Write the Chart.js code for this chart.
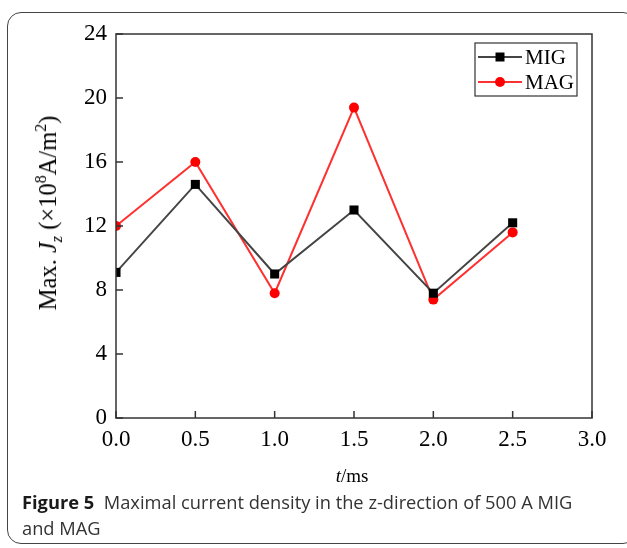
<!DOCTYPE html>
<html>
<head>
<meta charset="utf-8">
<script src="https://cdn.jsdelivr.net/npm/chart.js@4.4.1/dist/chart.umd.min.js"></script>
<style>
  html, body { margin:0; padding:0; background:#fff; }
  body { width:627px; height:548px; position:relative; overflow:hidden; }
  #frame { position:absolute; left:7px; top:12px; width:630px; height:532px; border:1px solid #444; border-radius:14px; box-sizing:border-box; }
  #wrap { position:absolute; left:0; top:0; width:627px; height:548px; }
  #ytitle { position:absolute; left:49px; top:213px; transform:translate(-50%,-50%) rotate(-90deg); white-space:nowrap; font-family:"Liberation Serif","Times New Roman",serif; font-size:24.5px; color:#000; }
  #ytitle sub { font-size:16px; vertical-align:-6px; }
  #ytitle sup { font-size:16px; vertical-align:10px; }
  #xtitle { position:absolute; left:352px; top:476px; transform:translate(-50%,-50%); white-space:nowrap; font-family:"Liberation Serif","Times New Roman",serif; font-size:19px; color:#000; }
  #caption { position:absolute; left:22px; top:489px; width:580px; font-family:"Open Sans","Noto Sans",sans-serif; font-size:18.3px; line-height:26px; color:#333; }
  #caption b { color:#1a1a1a; font-weight:700; }
</style>
</head>
<body>
<div id="frame"></div>
<div id="wrap"><canvas id="c" width="627" height="548"></canvas></div>
<div id="ytitle">Max. <i>J</i><sub><i>z</i></sub> (×10<sup>8</sup>A/m<sup>2</sup>)</div>
<div id="xtitle"><i>t</i>/ms</div>
<div id="caption"><b>Figure 5</b>&nbsp; Maximal current density in the z-direction of 500 A MIG and MAG</div>
<script>
const times = [0.0, 0.5, 1.0, 1.5, 2.0, 2.5];
const migValues = [9.1, 14.6, 9.0, 13.0, 7.8, 12.2];
const magValues = [12.0, 16.0, 7.8, 19.4, 7.4, 11.6];
const xTicks = [0.0, 0.5, 1.0, 1.5, 2.0, 2.5, 3.0];
const yTicks = [0, 4, 8, 12, 16, 20, 24];
const seriesNames = ['MIG', 'MAG'];

const toPoints = vals => times.map((t, i) => ({x: t, y: vals[i]}));

const framePlugin = {
  id: 'framePlugin',
  afterDatasetsDraw(chart) {
    const {ctx, chartArea: a, scales} = chart;
    ctx.save();
    ctx.strokeStyle = '#333';
    ctx.lineWidth = 1.5;
    ctx.strokeRect(a.left, a.top, a.right - a.left, a.bottom - a.top);
    ctx.beginPath();
    yTicks.forEach(v => {
      const y = scales.y.getPixelForValue(v);
      ctx.moveTo(a.left, y); ctx.lineTo(a.left + 7, y);
    });
    xTicks.forEach(v => {
      const x = scales.x.getPixelForValue(v);
      ctx.moveTo(x, a.bottom); ctx.lineTo(x, a.bottom - 7);
    });
    ctx.stroke();
    // legend
    const lx = 475, ly = 43, lw = 102, lh = 53;
    ctx.fillStyle = '#fff';
    ctx.fillRect(lx, ly, lw, lh);
    ctx.lineWidth = 1.2;
    ctx.strokeStyle = '#333';
    ctx.strokeRect(lx, ly, lw, lh);
    chart.data.datasets.forEach((ds, i) => {
      const cy = ly + 14 + i * 25;
      ctx.strokeStyle = ds.borderColor;
      ctx.lineWidth = ds.borderWidth;
      ctx.beginPath(); ctx.moveTo(lx + 3, cy); ctx.lineTo(lx + 47, cy); ctx.stroke();
      ctx.fillStyle = ds.pointBackgroundColor;
      ctx.beginPath();
      if (ds.pointStyle === 'rect') {
        ctx.rect(lx + 25 - 4.5, cy - 4.5, 9, 9);
      } else {
        ctx.arc(lx + 25, cy, 5, 0, Math.PI * 2);
      }
      ctx.fill();
      ctx.fillStyle = '#000';
      ctx.font = '21px "Liberation Serif", serif';
      ctx.textBaseline = 'middle';
      ctx.textAlign = 'left';
      ctx.fillText(ds.label, lx + 50, cy + 1);
    });
    ctx.restore();
  }
};

new Chart(document.getElementById('c'), {
  type: 'line',
  data: {
    datasets: [
      {
        label: seriesNames[0],
        data: toPoints(migValues),
        borderColor: '#444444',
        borderWidth: 2,
        pointStyle: 'rect',
        pointRadius: 6.4,
        pointBackgroundColor: '#000000',
        pointBorderColor: '#000000',
        pointBorderWidth: 0,
        tension: 0
      },
      {
        label: seriesNames[1],
        data: toPoints(magValues),
        borderColor: '#ff3030',
        borderWidth: 2,
        pointStyle: 'circle',
        pointRadius: 5,
        pointBackgroundColor: '#ff0000',
        pointBorderColor: '#ff0000',
        pointBorderWidth: 0,
        tension: 0
      }
    ]
  },
  options: {
    responsive: false,
    animation: false,
    layout: { padding: { left: 0, top: 34, right: 35, bottom: 0 } },
    plugins: { legend: { display: false }, tooltip: { enabled: false } },
    scales: {
      x: {
        type: 'linear', min: 0, max: 3,
        afterBuildTicks: s => { s.ticks = xTicks.map(v => ({value: v})); },
        afterFit: s => { s.height = 130; },
        grid: { display: false, drawTicks: false },
        border: { display: false },
        ticks: {
          padding: 8,
          color: '#000',
          font: { family: '"Liberation Serif", serif', size: 23 },
          callback: v => v.toFixed(1),
          maxRotation: 0
        }
      },
      y: {
        type: 'linear', min: 0, max: 24,
        afterBuildTicks: s => { s.ticks = yTicks.map(v => ({value: v})); },
        afterFit: s => { s.width = 116; },
        grid: { display: false, drawTicks: false },
        border: { display: false },
        ticks: {
          padding: 9,
          color: '#000',
          font: { family: '"Liberation Serif", serif', size: 23 }
        }
      }
    }
  },
  plugins: [framePlugin]
});
</script>
</body>
</html>
